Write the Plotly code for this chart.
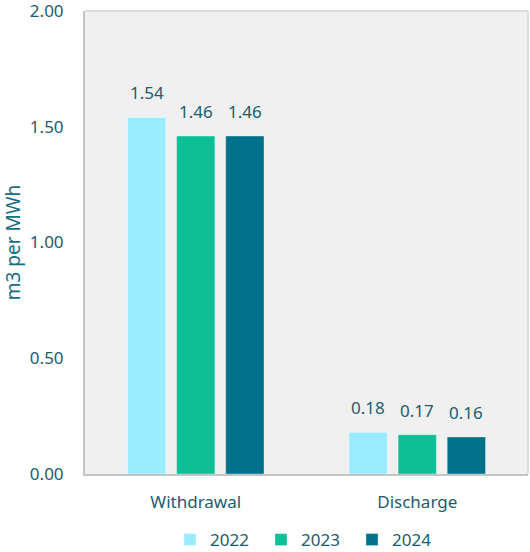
import plotly.graph_objects as go

categories = ["Withdrawal", "Discharge"]
years = ["2022", "2023", "2024"]
values_2022 = [1.54, 0.18]
values_2023 = [1.46, 0.17]
values_2024 = [1.46, 0.16]
y_ticks = [0.0, 0.5, 1.0, 1.5, 2.0]
y_tick_labels = ["0.00", "0.50", "1.00", "1.50", "2.00"]

series = [values_2022, values_2023, values_2024]
colors = ["#99ECFF", "#0DBF96", "#00718A"]
text_color = "#1B5C6C"
font_family = "Noto Sans, Open Sans, sans-serif"

W, H = 530, 552
margin = dict(l=85, r=2, t=11, b=78)
bargap = 0.335
bargroupgap = 0.22

fig = go.Figure()
for name, vals, col in zip(years, series, colors):
    fig.add_trace(go.Bar(
        x=categories,
        y=vals,
        name=name,
        marker=dict(color=col, line=dict(color="rgba(255,255,255,0.35)", width=1)),
    ))

# value labels above each bar, shifted to the bar's slot within its group
plot_w = W - margin["l"] - margin["r"]
slot_px = plot_w / len(categories) * (1 - bargap) / len(series)
for i, vals in enumerate(series):
    for cat, v in zip(categories, vals):
        fig.add_annotation(
            x=cat, y=v, xref="x", yref="y",
            text=f"{v:.2f}",
            showarrow=False,
            xshift=(i - (len(series) - 1) / 2) * slot_px,
            yshift=11,
            yanchor="bottom",
            font=dict(size=17, color=text_color, family=font_family),
        )

fig.update_layout(
    width=W,
    height=H,
    margin=margin,
    paper_bgcolor="white",
    plot_bgcolor="#F0F0F0",
    barmode="group",
    bargap=bargap,
    bargroupgap=bargroupgap,
    font=dict(family=font_family, color=text_color, size=17),
    showlegend=True,
    legend=dict(
        orientation="h",
        x=0.5,
        xanchor="center",
        yref="container",
        y=12 / H,
        yanchor="middle",
        font=dict(size=17, color=text_color),
        entrywidth=46,
        entrywidthmode="pixels",
        itemclick=False,
    ),
)

fig.update_xaxes(
    showline=True,
    linecolor="#C4C4C4",
    linewidth=2,
    showgrid=False,
    ticks="",
    automargin=False,
    tickfont=dict(size=17, color=text_color),
    ticklabelstandoff=12,
)
fig.update_yaxes(
    range=[0, 2.0],
    tickvals=y_ticks,
    ticktext=y_tick_labels,
    ticklabeloverflow="allow",
    showline=True,
    linecolor="#C4C4C4",
    linewidth=2,
    showgrid=False,
    zeroline=False,
    ticks="",
    automargin=False,
    tickfont=dict(size=17, color=text_color),
    ticklabelstandoff=16,
    title=dict(text="m3 per MWh", font=dict(size=19, color="#1A6E84"), standoff=18),
)

# lighter frame on the top and right of the plot area
fig.add_shape(type="line", xref="paper", yref="paper", x0=0, x1=1, y0=1, y1=1,
              line=dict(color="#DCDCDC", width=2))
fig.add_shape(type="line", xref="paper", yref="paper", x0=1, x1=1, y0=0, y1=1,
              line=dict(color="#DCDCDC", width=2))

fig.write_html("out.html")
